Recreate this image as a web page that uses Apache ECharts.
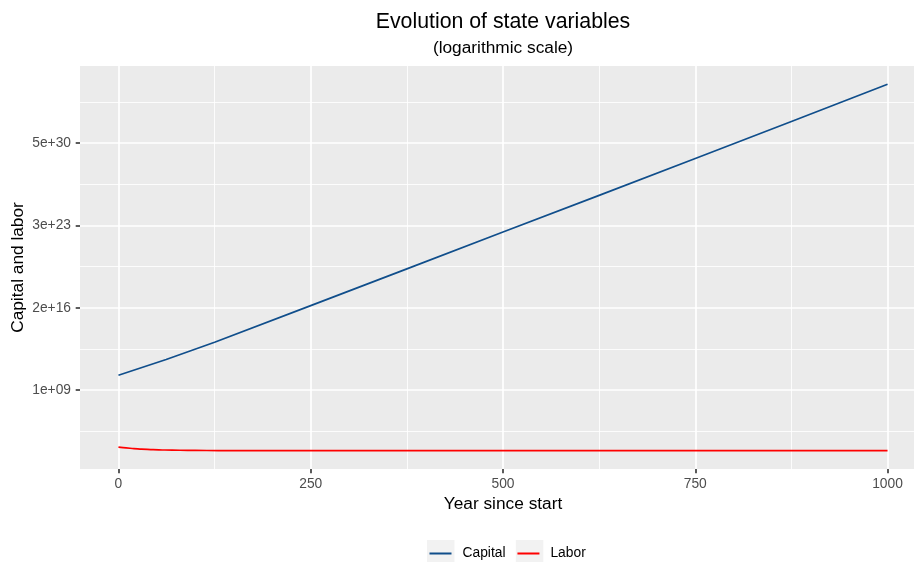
<!DOCTYPE html>
<html>
<head>
<meta charset="utf-8">
<script src="https://cdn.jsdelivr.net/npm/echarts@6/dist/echarts.min.js"></script>
<style>
  html, body { margin: 0; padding: 0; background: #fff; overflow: hidden; width: 914px; height: 562px; }
  #chart { width: 940px; height: 562px; }
</style>
</head>
<body>
<div id="chart"></div>
<script>
// ---- Data ----
const capitalYears  = [0, 62, 125, 250, 375, 500, 625, 750, 875, 1000];
const capitalValues = [2.04e10, 4.9e11, 1.58e13, 2.57e16, 4.27e19, 7.24e22, 1.20e26, 2.04e29, 3.55e32, 6.46e35];

const laborYears  = [0, 10, 20, 30, 45, 60, 80, 100, 130, 175, 250, 500, 750, 1000];
const laborValues = [1.02e4, 8.7e3, 7.6e3, 6.8e3, 6.2e3, 5.75e3, 5.45e3, 5.25e3, 5.1e3, 5.05e3, 5.0e3, 5.0e3, 5.0e3, 5.0e3];

const xTickValues  = [0, 250, 500, 750, 1000];
const xTickLabels  = ['0', '250', '500', '750', '1000'];
const xMinorValues = [125, 375, 625, 875];

const yTickValues  = [1e9, 1.66e16, 2.75e23, 4.57e30];
const yTickLabels  = ['1e+09', '2e+16', '3e+23', '5e+30'];

// ---- Build options ----
const lg = v => Math.log10(v);
const capData = capitalYears.map((x, i) => [x, lg(capitalValues[i])]);
const labData = laborYears.map((x, i) => [x, lg(laborValues[i])]);

const allLog = capData.concat(labData).map(d => d[1]);
const lo = Math.min(...allLog), hi = Math.max(...allLog);
const pad = (hi - lo) * 0.05;
const yMin = lo - pad, yMax = hi + pad;

const yMajor = yTickValues.map(lg);
const half = (yMajor[1] - yMajor[0]) / 2;
const yMinor = [yMajor[0] - half];
for (let i = 0; i < yMajor.length - 1; i++) yMinor.push((yMajor[i] + yMajor[i + 1]) / 2);
yMinor.push(yMajor[yMajor.length - 1] + half);

const FONT = '"Liberation Sans", Arial, Helvetica, sans-serif';
const chart = echarts.init(document.getElementById('chart'), null, { renderer: 'canvas' });

const option = {
  backgroundColor: '#ffffff',
  animation: false,
  textStyle: { fontFamily: FONT },
  title: [
    { text: 'Evolution of state variables', left: 498, top: 7, textAlign: 'center',
      textStyle: { fontFamily: FONT, fontSize: 21.3, fontWeight: 'normal', color: '#000' } },
    { text: '(logarithmic scale)', left: 498, top: 35, textAlign: 'center',
      textStyle: { fontFamily: FONT, fontSize: 17.3, fontWeight: 'normal', color: '#000' } }
  ],
  grid: { left: 80, right: 14, top: 66, bottom: 93, show: true, backgroundColor: '#EBEBEB', borderWidth: 0,
          containLabel: false, outerBoundsMode: 'none' },
  legend: {
    data: ['Capital', 'Labor'],
    left: 429.5, top: 546.5, padding: 0,
    icon: 'rect', itemWidth: 22, itemHeight: 2, itemGap: 12,
    textStyle: { fontFamily: FONT, fontSize: 13.8, color: '#000', padding: [0, 0, 0, 6], lineHeight: 14 }
  },
  graphic: [
    { type: 'rect', shape: { x: 427, y: 540, width: 27.5, height: 26 }, style: { fill: '#F2F2F2' }, silent: true },
    { type: 'rect', shape: { x: 515.8, y: 540, width: 27.5, height: 26 }, style: { fill: '#F2F2F2' }, silent: true }
  ],
  xAxis: [
    {
      type: 'value', min: -50, max: 1050, position: 'bottom',
      name: 'Year since start', nameLocation: 'middle', nameGap: 27,
      nameTextStyle: { fontFamily: FONT, fontSize: 17.3, color: '#000' },
      axisLine: { show: false, onZero: false },
      axisTick: { show: true, length: 4.3, customValues: xTickValues, lineStyle: { color: '#333333', width: 1.6 } },
      axisLabel: { customValues: xTickValues, margin: 8, color: '#4D4D4D', fontSize: 13.8, fontFamily: FONT,
        formatter: v => xTickLabels[xTickValues.indexOf(v)] },
      splitLine: { show: true, lineStyle: { color: '#FFFFFF', width: 1.7 } }
    },
    {
      type: 'value', min: -50, max: 1050, position: 'top',
      axisLine: { show: false, onZero: false }, axisLabel: { show: false },
      axisTick: { show: false, customValues: xMinorValues },
      splitLine: { show: true, lineStyle: { color: '#FFFFFF', width: 0.85 } }
    }
  ],
  yAxis: [
    {
      type: 'value', min: yMin, max: yMax, position: 'left',
      name: 'Capital and labor', nameLocation: 'middle', nameGap: 53, nameRotate: 90, nameMoveOverlap: false,
      nameTextStyle: { fontFamily: FONT, fontSize: 17.3, color: '#000' },
      axisLine: { show: false, onZero: false },
      axisTick: { show: true, length: 4.3, customValues: yMajor, lineStyle: { color: '#333333', width: 1.6 } },
      axisLabel: { customValues: yMajor, margin: 9, color: '#4D4D4D', fontSize: 13.8, fontFamily: FONT,
        formatter: v => { let k = 0, b = Infinity; yMajor.forEach((m, i) => { if (Math.abs(m - v) < b) { b = Math.abs(m - v); k = i; } }); return yTickLabels[k]; } },
      splitLine: { show: true, lineStyle: { color: '#FFFFFF', width: 1.7 } }
    },
    {
      type: 'value', min: yMin, max: yMax, position: 'right',
      axisLine: { show: false, onZero: false }, axisLabel: { show: false },
      axisTick: { show: false, customValues: yMinor },
      splitLine: { show: true, lineStyle: { color: '#FFFFFF', width: 0.85 } }
    }
  ],
  series: [
    { name: 'Capital', type: 'line', data: capData, showSymbol: false, xAxisIndex: 0, yAxisIndex: 0,
      lineStyle: { color: '#104E8B', width: 1.7 }, itemStyle: { color: '#104E8B' }, z: 3 },
    { name: 'Labor', type: 'line', data: labData, showSymbol: false, smooth: 0.3, smoothMonotone: 'x', xAxisIndex: 0, yAxisIndex: 0,
      lineStyle: { color: '#FF0000', width: 1.7 }, itemStyle: { color: '#FF0000' }, z: 3 }
  ]
};
chart.setOption(option);
</script>
</body>
</html>
